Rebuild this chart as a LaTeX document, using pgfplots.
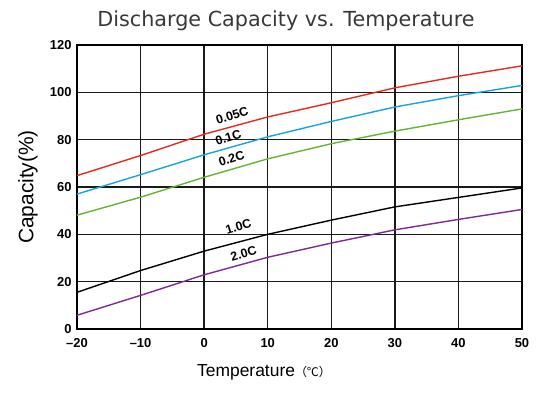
\documentclass[border=0pt]{standalone}
\usepackage{fontspec}
\setmainfont{Liberation Sans}
\newfontfamily\titlefont{DejaVu Sans}
\newfontfamily\cjk{Noto Sans CJK SC}
\usepackage{pgfplots}
\pgfplotsset{compat=1.18}
\definecolor{cred}{RGB}{232,42,30}
\definecolor{cblue}{RGB}{20,165,225}
\definecolor{cgreen}{RGB}{100,180,50}
\definecolor{cpurple}{RGB}{128,40,150}
\begin{document}
\begin{tikzpicture}
\useasboundingbox (0,0) rectangle (550bp,399bp);
\begin{axis}[
  at={(77bp,70bp)}, anchor=south west, scale only axis,
  width=445bp, height=284bp,
  xmin=-20, xmax=50, ymin=0, ymax=120,
  xtick={-20,-10,...,50}, ytick={0,20,...,120},
  xticklabels={--20,--10,0,10,20,30,40,50},
  /pgf/number format/assume math mode=true,
  grid=major, major grid style={black!90, line width=1.35bp},
  axis line style={black, line width=2bp},
  tick style={draw=none},
  ticklabel style={font=\bfseries\fontsize{13}{13}\selectfont},
  yticklabel style={xshift=-2bp},
  xticklabel style={yshift=-6bp},
  clip=false,
]
\addplot[cred, line width=1.4bp] coordinates {(-20,64.8) (-10,73.3) (0,82.3) (10,89.6) (20,95.6) (30,101.9) (40,106.8) (50,111.2)};
\addplot[cblue, line width=1.4bp] coordinates {(-20,57) (-10,65.2) (0,73.6) (10,81.2) (20,87.7) (30,93.8) (40,98.6) (50,102.9)};
\addplot[cgreen, line width=1.4bp] coordinates {(-20,48.1) (-10,55.7) (0,64.1) (10,71.9) (20,78.3) (30,83.6) (40,88.4) (50,93)};
\addplot[black, line width=1.4bp] coordinates {(-20,15.5) (-10,24.7) (0,32.9) (10,40) (20,46) (30,51.6) (40,55.6) (50,59.6)};
\addplot[cpurple, line width=1.4bp] coordinates {(-20,5.8) (-10,14.2) (0,22.9) (10,30.3) (20,36.3) (30,41.9) (40,46.3) (50,50.5)};
\node[rotate=18, inner sep=0pt, font=\bfseries\fontsize{12.5}{12.5}\selectfont] at (axis cs:4.4,90.3) {0.05C};
\node[rotate=18, inner sep=0pt, font=\bfseries\fontsize{12.5}{12.5}\selectfont] at (axis cs:3.8,80.9) {0.1C};
\node[rotate=18, inner sep=0pt, font=\bfseries\fontsize{12.5}{12.5}\selectfont] at (axis cs:4.3,71.9) {0.2C};
\node[rotate=17, inner sep=0pt, font=\bfseries\fontsize{12.5}{12.5}\selectfont] at (axis cs:5.4,43.3) {1.0C};
\node[rotate=17, inner sep=0pt, font=\bfseries\fontsize{12.5}{12.5}\selectfont] at (axis cs:6.2,32) {2.0C};
\end{axis}
\node[font=\titlefont\fontsize{20.8}{20.8}\selectfont, text=black!78] at (286bp,378bp) {Discharge Capacity vs. Temperature};
\node[rotate=90, font=\fontsize{21}{21}\selectfont] at (28bp,212bp) {Capacity(\%)};
\node[font=\fontsize{17.5}{17.5}\selectfont] at (264bp,27bp) {Temperature{\cjk\fontsize{12}{12}\selectfont （℃）}};
\end{tikzpicture}
\end{document}
